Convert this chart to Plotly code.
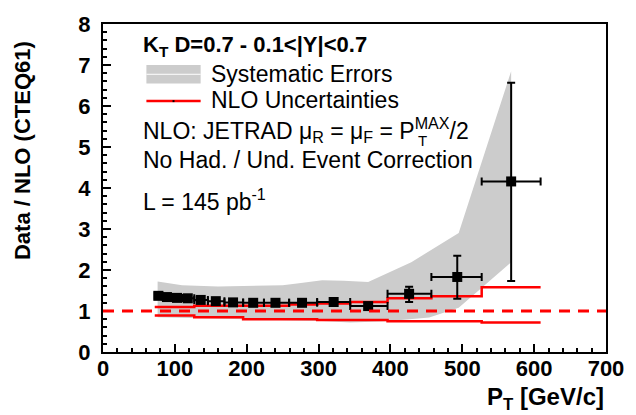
import plotly.graph_objects as go

# ---------------- data ----------------
bin_edges = [72, 83, 96, 110, 127, 146, 169, 195, 224, 259, 298, 344, 396, 457, 527, 609]
pt = [77, 89, 103, 118, 136, 157, 181, 209, 240, 277, 321, 369, 426, 493, 568]
ratio = [1.37, 1.34, 1.32, 1.31, 1.27, 1.24, 1.21, 1.20, 1.20, 1.20, 1.22, 1.12, 1.42, 1.83, 4.16]
stat_up = [0.01, 0.01, 0.01, 0.01, 0.01, 0.01, 0.01, 0.01, 0.02, 0.02, 0.03, 0.04, 0.17, 0.52, 2.41]
stat_dn = [0.01, 0.01, 0.01, 0.01, 0.01, 0.01, 0.01, 0.01, 0.02, 0.02, 0.03, 0.04, 0.20, 0.53, 2.43]

nlo_up = [1.10, 1.10, 1.10, 1.10, 1.13, 1.13, 1.13, 1.13, 1.13, 1.16, 1.18, 1.22, 1.31, 1.36, 1.58]
nlo_dn = [0.89, 0.89, 0.89, 0.89, 0.85, 0.85, 0.85, 0.80, 0.80, 0.80, 0.78, 0.78, 0.75, 0.75, 0.72]

syst_x_up = [76, 110, 160, 216, 250, 270, 305, 335, 369, 429, 495, 568]
syst_up = [1.72, 1.63, 1.60, 1.62, 1.63, 1.67, 1.75, 1.74, 1.71, 2.19, 2.90, 6.85]
syst_x_dn = [568, 495, 454, 395, 344, 298, 195, 76]
syst_dn = [2.19, 1.08, 0.84, 0.75, 0.72, 0.76, 0.80, 0.85]

ref_level = 1.0
x_range = [0, 700]
y_range = [0, 8]

# ---------------- layout geometry (pixels) ----------------
W, H = 636, 415
L, R, T, B = 103, 23, 16, 63
PW, PH = W - L - R, H - T - B

def px(x):
    return (x - L) / PW

def py(y):
    return 1 - (y - T) / PH

FONT = "Liberation Sans, Arial, sans-serif"
GREY = "#cccccc"
RED = "#ff0000"

fig = go.Figure()

# systematic band
fig.add_trace(go.Scatter(
    x=syst_x_up + syst_x_dn, y=syst_up + syst_dn,
    fill="toself", fillcolor=GREY, line=dict(width=0), mode="lines",
    hoverinfo="skip", showlegend=False))

# NLO uncertainty steps
fig.add_trace(go.Scatter(
    x=bin_edges, y=nlo_up + [nlo_up[-1]], mode="lines", line_shape="hv",
    line=dict(color=RED, width=2.5), showlegend=False))
fig.add_trace(go.Scatter(
    x=bin_edges, y=nlo_dn + [nlo_dn[-1]], mode="lines", line_shape="hv",
    line=dict(color=RED, width=2.5), showlegend=False))

# dashed reference line
fig.add_shape(type="line", xref="paper", yref="y", x0=0, x1=1, y0=ref_level, y1=ref_level,
              line=dict(color=RED, width=3, dash="11px,8px"))

# data points
ex_plus = [bin_edges[i + 1] - pt[i] for i in range(len(pt))]
ex_minus = [pt[i] - bin_edges[i] for i in range(len(pt))]
fig.add_trace(go.Scatter(
    x=pt, y=ratio, mode="markers",
    marker=dict(symbol="square", size=10, color="black"),
    error_y=dict(type="data", symmetric=False, array=stat_up, arrayminus=stat_dn,
                 color="black", thickness=2, width=4),
    error_x=dict(type="data", symmetric=False, array=ex_plus, arrayminus=ex_minus,
                 color="black", thickness=2, width=4),
    showlegend=False))

# legend samples (drawn manually)
fig.add_shape(type="rect", xref="paper", yref="paper",
              x0=px(147), x1=px(202), y0=py(77), y1=py(58),
              fillcolor=GREY, line=dict(width=0))
fig.add_shape(type="line", xref="paper", yref="paper",
              x0=px(147), x1=px(202), y0=py(67.5), y1=py(67.5),
              line=dict(color="white", width=1))
fig.add_shape(type="line", xref="paper", yref="paper",
              x0=px(147), x1=px(202), y0=py(95), y1=py(95),
              line=dict(color=RED, width=2.5))
fig.add_shape(type="rect", xref="paper", yref="paper",
              x0=px(173.5), x1=px(175.5), y0=py(96), y1=py(94),
              fillcolor="black", line=dict(width=0))

def ann(text, x, y, size=23, bold=False, xanchor="left", angle=0):
    fig.add_annotation(text=text, xref="paper", yref="paper", x=px(x), y=py(y),
                       xanchor=xanchor, yanchor="middle", showarrow=False,
                       textangle=angle,
                       font=dict(family=FONT, size=size, color="black",
                                 weight="bold" if bold else "normal"))

ann("K<sub>T</sub> D=0.7 - 0.1&lt;|Y|&lt;0.7", 142, 39, size=22, bold=True)
ann("Systematic Errors", 210, 67)
ann("NLO Uncertainties", 210, 94)
ann("NLO: JETRAD \u03bc<sub>R</sub> = \u03bc<sub>F</sub> = P<sup>MAX</sup>/2", 142, 125)
ann("T", 420, 135, size=15)
ann("No Had. / Und. Event Correction", 142, 155)
ann("L = 145 pb<sup>-1</sup>", 142, 196)

ann("Data / NLO (CTEQ61)", 22, 146, size=22, bold=True, xanchor="center", angle=-90)
ann("P<sub>T</sub> [GeV/c]", 613, 400, size=24, bold=True, xanchor="right")

axis_common = dict(
    showgrid=False, zeroline=False, showline=True, linecolor="black", linewidth=2,
    mirror=True, ticks="inside", ticklen=8, tickwidth=2, tickcolor="black",
    tickfont=dict(family=FONT, size=22, color="black", weight="bold"),
)

fig.update_xaxes(range=x_range, dtick=100, tick0=0,
                 minor=dict(dtick=20, ticks="inside", ticklen=4, tickwidth=1.5, tickcolor="black"),
                 ticklabelstandoff=-4, **axis_common)
fig.update_yaxes(range=y_range, dtick=1, tick0=0,
                 minor=dict(dtick=0.2, ticks="inside", ticklen=4, tickwidth=1.5, tickcolor="black"),
                 ticklabelstandoff=6, **axis_common)

fig.update_layout(
    width=W, height=H,
    margin=dict(l=L, r=R, t=T, b=B, pad=0),
    paper_bgcolor="white", plot_bgcolor="white",
    showlegend=False,
)

fig.write_html("out.html")
